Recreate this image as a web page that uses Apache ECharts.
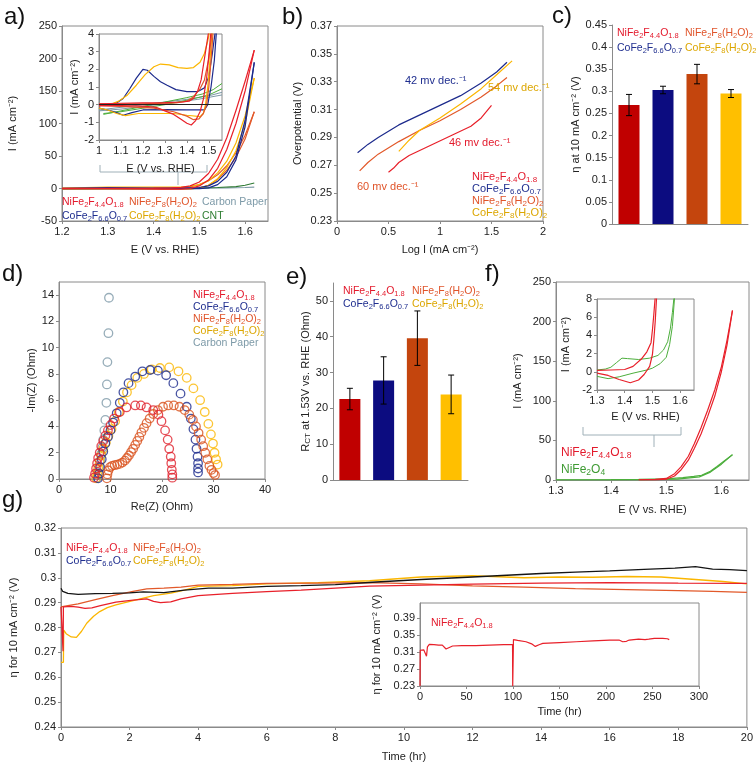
<!DOCTYPE html>
<html><head><meta charset="utf-8">
<script src="https://cdn.jsdelivr.net/npm/echarts@6/dist/echarts.min.js"></script>
<style>html,body{margin:0;padding:0;background:#fff}#c{width:756px;height:764px}</style>
</head><body><div id="c"></div>
<script>
// ---------- DATA ----------
const sampleNames = ['NiFe_2F_4.4O_1.8','CoFe_2F_6.6O_0.7','NiFe_2F_8(H_2O)_2','CoFe_2F_8(H_2O)_2'];
// a) LSV/CV main (E V vs RHE, I mA cm-2)
const aNiFeF_up = [[1.2,0.3],[1.3,0.3],[1.4,0.5],[1.44,1],[1.46,1.8],[1.48,4],[1.50,10],[1.52,23],[1.54,45],[1.56,78],[1.58,120],[1.60,165],[1.62,213]];
const aNiFeF_dn = [[1.62,213],[1.60,150],[1.58,100],[1.56,60],[1.54,31],[1.52,13],[1.50,4],[1.48,0],[1.46,-1],[1.42,-1],[1.38,-0.5],[1.3,-0.2],[1.2,-0.2]];
const aCoFeF_up = [[1.2,0.2],[1.3,1.2],[1.4,0.8],[1.46,0.7],[1.50,1.5],[1.52,4],[1.54,11],[1.56,25],[1.58,50],[1.60,105],[1.62,194]];
const aCoFeF_dn = [[1.62,194],[1.60,95],[1.58,44],[1.56,18],[1.54,6],[1.52,1],[1.50,-0.3],[1.3,-0.3],[1.2,-0.3]];
const aNiFeH_up = [[1.2,0.1],[1.4,0.3],[1.46,1.3],[1.48,2.5],[1.50,6],[1.52,12],[1.54,21],[1.56,35],[1.58,55],[1.60,82],[1.62,118]];
const aNiFeH_dn = [[1.62,118],[1.60,76],[1.58,48],[1.56,28],[1.54,14],[1.52,5],[1.50,1],[1.48,-0.5],[1.43,-0.8],[1.3,-0.3],[1.2,-0.2]];
const aCoFeH_up = [[1.2,0.5],[1.3,2.3],[1.4,2.1],[1.46,2.3],[1.48,3.5],[1.50,6],[1.52,12],[1.54,24],[1.56,42],[1.58,70],[1.60,112],[1.62,170]];
const aCoFeH_dn = [[1.62,170],[1.60,100],[1.58,58],[1.56,32],[1.54,15],[1.52,5],[1.50,0.5],[1.48,-0.6],[1.3,-0.5],[1.2,-0.5]];
const aCarbon = [[1.2,-0.3],[1.3,0],[1.4,0.3],[1.5,0.6],[1.56,1],[1.6,1.5],[1.62,2]];
const aCNT = [[1.2,-0.5],[1.3,-0.2],[1.4,0.2],[1.5,0.8],[1.54,1.5],[1.58,3],[1.60,5],[1.62,8.5]];
// a) inset
const iNiFeF_up = [[1.0,0.05],[1.1,0.08],[1.2,0.1],[1.3,0.12],[1.38,0.15],[1.41,0.2],[1.43,0.35],[1.45,0.8],[1.465,1.4],[1.48,2.6],[1.49,3.4],[1.50,4.2]];
const iNiFeF_dn = [[1.51,4.2],[1.50,2.8],[1.49,1.5],[1.475,0.3],[1.46,-0.4],[1.44,-0.9],[1.42,-1.15],[1.40,-1.05],[1.37,-0.8],[1.34,-0.55],[1.30,-0.35],[1.26,-0.15],[1.2,-0.08],[1.1,-0.05],[1.0,-0.05]];
const iCoFeF_up = [[1.0,-0.05],[1.05,0.0],[1.08,0.1],[1.11,0.35],[1.14,0.9],[1.17,1.5],[1.20,2.0],[1.22,1.95],[1.25,1.6],[1.28,1.3],[1.31,1.1],[1.35,0.85],[1.40,0.74],[1.45,0.74],[1.48,0.95],[1.50,1.6],[1.515,2.8],[1.53,4.2]];
const iCoFeF_dn = [[1.535,4.2],[1.525,2.5],[1.51,1.0],[1.495,0],[1.48,-0.3],[1.4,-0.3],[1.3,-0.28],[1.2,-0.3],[1.15,-0.45],[1.11,-0.6],[1.08,-0.45],[1.04,-0.3],[1.0,-0.2]];
const iNiFeH_up = [[1.0,0.05],[1.2,0.05],[1.35,0.1],[1.40,0.2],[1.43,0.45],[1.46,0.9],[1.48,1.4],[1.50,2.6],[1.515,4.2]];
const iNiFeH_dn = [[1.52,4.2],[1.51,2.5],[1.50,1.0],[1.49,0.0],[1.475,-0.5],[1.455,-0.8],[1.43,-0.85],[1.40,-0.65],[1.34,-0.4],[1.25,-0.2],[1.1,-0.1],[1.0,-0.05]];
const iCoFeH_up = [[1.0,-0.05],[1.05,0.0],[1.09,0.2],[1.13,0.55],[1.17,1.1],[1.21,1.7],[1.25,2.15],[1.28,2.3],[1.32,2.25],[1.36,2.1],[1.40,2.05],[1.43,2.1],[1.46,2.4],[1.48,2.9],[1.495,3.6],[1.505,4.2]];
const iCoFeH_dn = [[1.515,4.2],[1.505,2.5],[1.495,1.0],[1.485,0],[1.475,-0.5],[1.46,-0.68],[1.40,-0.6],[1.34,-0.5],[1.25,-0.5],[1.18,-0.5],[1.12,-0.62],[1.08,-0.5],[1.04,-0.3],[1.0,-0.2]];
const iCNT_up = [[1.02,-0.55],[1.1,-0.35],[1.2,-0.1],[1.3,0.15],[1.4,0.4],[1.47,0.6],[1.52,0.85],[1.56,1.2]];
const iCNT_dn = [[1.56,0.9],[1.5,0.55],[1.4,0.25],[1.3,0.0],[1.2,-0.2],[1.1,-0.4],[1.02,-0.5]];
const iCarbon_up = [[1.0,-0.3],[1.1,-0.15],[1.2,0.0],[1.3,0.15],[1.4,0.3],[1.5,0.5],[1.56,0.7]];
const iCarbon_dn = [[1.56,0.55],[1.45,0.3],[1.3,0.05],[1.2,-0.1],[1.1,-0.25],[1.0,-0.35]];
// b) Tafel (log I, overpotential V)
const bNiFeF = [[0.5,0.265],[0.55,0.268],[0.6,0.272],[0.7,0.277],[0.9,0.284],[1.1,0.291],[1.3,0.298],[1.4,0.304],[1.5,0.313]];
const bCoFeF = [[0.2,0.279],[0.3,0.285],[0.4,0.29],[0.6,0.299],[0.8,0.306],[1.0,0.313],[1.2,0.32],[1.4,0.329],[1.55,0.337],[1.65,0.344]];
const bNiFeH = [[0.22,0.266],[0.3,0.272],[0.4,0.278],[0.6,0.287],[0.8,0.295],[1.0,0.302],[1.2,0.31],[1.4,0.319],[1.55,0.327],[1.65,0.333]];
const bCoFeH = [[0.6,0.28],[0.7,0.288],[0.8,0.295],[1.0,0.304],[1.2,0.314],[1.4,0.325],[1.55,0.335],[1.7,0.345]];
const bSlopes = ['46 mv dec.⁻¹','42 mv dec.⁻¹','60 mv dec.⁻¹','54 mv dec.⁻¹'];
// c) overpotential at 10 mA cm-2
const cEta = [0.269, 0.303, 0.339, 0.295];
const cEtaErr = [0.024, 0.0085, 0.022, 0.009];
// d) Nyquist (Re, -Im)
const dNiFeF = [[6.8,0.1],[7.0,0.4],[7.2,0.8],[7.4,1.2],[7.6,1.6],[7.9,2.0],[8.2,2.5],[8.6,2.9],[9.0,3.3],[9.5,3.7],[10.0,4.1],[10.7,4.6],[11.8,5.1],[13.1,5.45],[14.8,5.6],[15.9,5.6],[17.0,5.45],[18.3,5.25],[19.3,4.9],[19.9,4.4],[20.6,3.7],[21.1,3.0],[21.4,2.3],[21.7,1.7],[21.8,1.2],[21.9,0.7],[22.0,0.35],[22.0,0.1]];
const dCoFeF = [[7.6,0.05],[7.8,0.4],[8.0,0.9],[8.3,1.5],[8.6,2.1],[9.0,2.7],[9.5,3.2],[10.0,3.7],[10.5,4.3],[11.2,5.0],[11.8,5.8],[12.5,6.6],[13.5,7.3],[14.8,7.8],[16.2,8.2],[17.7,8.3],[19.2,8.25],[20.8,7.9],[22.2,7.3],[23.6,6.5],[24.8,5.5],[25.6,4.6],[26.1,3.8],[26.5,3.0],[26.7,2.3],[26.9,1.7],[27.0,1.2],[27.0,0.8],[27.0,0.5]];
const dNiFeH = [[9.3,0.05],[9.4,0.35],[9.6,0.65],[9.9,0.9],[10.3,1.0],[10.8,1.05],[11.3,1.1],[11.8,1.15],[12.3,1.25],[12.8,1.4],[13.2,1.6],[13.6,1.8],[14.0,2.05],[14.4,2.3],[14.8,2.6],[15.2,2.9],[15.6,3.2],[16.0,3.55],[16.5,3.9],[17.0,4.25],[17.6,4.6],[18.3,4.95],[19.2,5.25],[20.2,5.5],[21.2,5.6],[22.3,5.6],[23.4,5.5],[24.4,5.25],[25.3,4.9],[26.0,4.5],[26.6,4.0],[27.1,3.5],[27.6,3.0],[28.0,2.5],[28.4,2.0],[28.8,1.5],[29.2,1.0],[29.6,0.7],[30.0,0.45],[30.3,0.3]];
const dCoFeH = [[7.2,0.05],[7.4,0.4],[7.6,0.8],[7.9,1.3],[8.2,1.8],[8.6,2.3],[9.1,2.8],[9.6,3.3],[10.2,3.8],[10.9,4.4],[11.6,5.1],[12.4,5.9],[13.2,6.6],[14.1,7.15],[15.2,7.7],[16.5,8.0],[18.0,8.35],[19.6,8.45],[21.4,8.5],[23.2,8.2],[24.8,7.7],[26.1,6.9],[27.4,6.0],[28.3,5.1],[29.0,4.2],[29.5,3.4],[29.9,2.7],[30.2,2.0],[30.5,1.5],[30.8,1.1]];
const dCarbon = [[7.4,0.1],[7.6,0.5],[7.8,0.9],[8.0,1.4],[8.2,1.9],[8.4,2.4],[8.6,3.0],[8.8,3.7],[9.0,4.5],[9.2,5.8],[9.3,7.2],[9.4,8.9],[9.6,11.1],[9.7,13.8]];
// e) Rct at 1.53 V
const eRct = [22.6, 27.8, 39.6, 23.9];
const eRctErr = [3.0, 6.6, 7.6, 5.4];
// f) NiFe2F4.4O1.8 vs NiFe2O4
const fNiFeF_up = [[1.45,0.3],[1.48,0.8],[1.50,2],[1.515,8],[1.527,17],[1.54,30],[1.551,46],[1.563,66],[1.575,88],[1.588,114],[1.60,143],[1.61,176],[1.62,214]];
const fNiFeF_dn = [[1.62,214],[1.61,170],[1.60,137],[1.588,106],[1.575,80],[1.563,58],[1.551,40],[1.54,25],[1.527,13],[1.515,5],[1.50,1],[1.48,0],[1.45,0]];
const fNiFeO_up = [[1.3,0.3],[1.4,0.5],[1.45,0.8],[1.5,1.5],[1.53,3],[1.55,4.5],[1.564,6],[1.58,11],[1.592,17],[1.605,24],[1.62,32]];
const fNiFeO_dn = [[1.62,32],[1.60,20],[1.58,10],[1.56,4],[1.52,1],[1.45,0.2],[1.3,0]];
const fiNiFeF_up = [[1.3,0.15],[1.35,0.2],[1.40,0.25],[1.43,0.6],[1.46,1.4],[1.48,2.2],[1.495,3.2],[1.50,4.6],[1.505,6.3],[1.51,8.2]];
const fiNiFeF_dn = [[1.515,8.2],[1.51,5.5],[1.505,3.5],[1.50,1.9],[1.49,0.6],[1.47,-0.3],[1.45,-0.9],[1.42,-1.2],[1.38,-0.85],[1.34,-0.4],[1.3,-0.15]];
const fiNiFeO_up = [[1.3,0.2],[1.33,0.3],[1.35,0.5],[1.37,1.0],[1.39,1.5],[1.41,1.45],[1.45,1.35],[1.49,1.5],[1.52,1.8],[1.54,2.4],[1.555,3.3],[1.565,4.8],[1.572,6.5],[1.578,8.2]];
const fiNiFeO_dn = [[1.58,8.2],[1.572,5],[1.562,3],[1.55,1.6],[1.528,0.9],[1.5,0.4],[1.48,0.2],[1.43,-0.15],[1.38,-0.55],[1.34,-0.75],[1.3,-0.5]];
// g) chronopotentiometry (time hr, eta V)
const gNiFeF = [[0,0.2883],[0.05,0.2883],[0.06,0.2705],[0.07,0.2883],[0.3,0.2885],[0.5,0.2882],[0.7,0.2877],[0.9,0.2879],[1.15,0.2888],[1.6,0.2902],[2.1,0.291],[2.5,0.2915],[2.7,0.2905],[2.9,0.29],[3.2,0.2903],[3.5,0.2915],[4.0,0.2928],[5.0,0.2937],[6.0,0.2944],[7.0,0.295],[8.0,0.2958],[9.0,0.2966],[10.5,0.297],[12.0,0.2974],[14.0,0.2978],[16.0,0.298],[18.0,0.2978],[20.0,0.2977]];
const gCoFeF = [[0,0.2958],[0.05,0.2945],[0.2,0.2937],[0.5,0.2933],[1.0,0.2936],[1.5,0.2937],[2.0,0.2939],[2.4,0.2943],[3.0,0.294],[3.6,0.295],[4.3,0.2958],[5.0,0.2958],[6.0,0.2965],[7.0,0.2968],[8.0,0.2972],[9.2,0.2983],[10.5,0.2993],[12.0,0.3003],[13.0,0.301],[14.0,0.3017],[15.0,0.3023],[16.0,0.3028],[17.0,0.3034],[17.9,0.3039],[18.5,0.3045],[19.0,0.3035],[19.5,0.3033],[20.0,0.3029]];
const gNiFeH = [[0,0.2883],[0.2,0.2888],[0.5,0.2895],[1.0,0.2912],[1.5,0.2928],[2.1,0.2945],[2.5,0.2955],[3.0,0.2958],[3.5,0.2962],[4.0,0.297],[5.0,0.2973],[6.0,0.2977],[7.5,0.2978],[9.0,0.298],[10.5,0.2975],[12.0,0.2967],[13.5,0.2962],[15.0,0.2956],[16.5,0.2952],[18.0,0.2948],[19.0,0.2945],[20.0,0.2941]];
const gCoFeH = [[0,0.266],[0.07,0.266],[0.08,0.279],[0.15,0.2775],[0.3,0.2762],[0.45,0.276],[0.6,0.2785],[0.75,0.2817],[0.95,0.2845],[1.13,0.2864],[1.35,0.288],[1.6,0.2891],[2.1,0.2908],[2.7,0.2928],[3.2,0.2938],[3.6,0.295],[4.0,0.2965],[5.0,0.2968],[6.0,0.2975],[7.5,0.298],[9.0,0.2988],[10.5,0.3003],[12.0,0.3008],[13.5,0.3],[14.5,0.3003],[15.5,0.3002],[16.5,0.3005],[17.5,0.3003],[18.5,0.2993],[19.3,0.2985],[20,0.2975]];
const gLong = [[0,0.23],[0.3,0.314],[2,0.315],[4,0.315],[6,0.316],[7,0.3],[7.5,0.3],[8,0.322],[10,0.328],[15,0.327],[20,0.326],[24,0.326],[26,0.322],[28,0.317],[30,0.319],[35,0.324],[45,0.325],[60,0.325],[75,0.326],[90,0.327],[99.5,0.327],[99.7,0.23],[100.2,0.23],[100.5,0.339],[105,0.337],[114,0.334],[120,0.329],[124,0.323],[128,0.327],[132,0.33],[150,0.332],[168,0.334],[186,0.336],[204,0.338],[214,0.338],[218,0.334],[220,0.331],[222,0.335],[225,0.338],[235,0.34],[242,0.339],[244,0.335],[246,0.34],[252,0.342],[261,0.342],[266,0.341],[268,0.339]];
// tick labels
const aXTicks = [1.2,1.3,1.4,1.5,1.6];
const aiXTicks = [1,1.1,1.2,1.3,1.4,1.5];
const bYTicks = [0.23,0.25,0.27,0.29,0.31,0.33,0.35,0.37];
const dYTicks = [0,2,4,6,8,10,12,14];
const eYTicks = [0,10,20,30,40,50];
const fXTicks = [1.3,1.4,1.5,1.6];
const giYTicks = [0.23,0.27,0.31,0.35,0.39];

// ---------- STYLE ----------
const FONT = '"Liberation Sans", Arial, sans-serif';
const AX = '#8a8a8a';
const C = {red:'#e8202a', blue:'#1c2a8c', orange:'#e2592a', yellow:'#fbb600', gray:'#7d99a7', cnt:'#2f7a34', green:'#4cae3c', black:'#151515'};
const T = {red:'#e31a2c', blue:'#1f2e8f', orange:'#e0542a', yellow:'#dca600', gray:'#7d9aa8', cnt:'#2e7d32', green:'#3f9b34'};
const BAR = ['#c00000','#0c0c80','#c4450d','#ffbf00'];

const sub = s => s.replace(/_([0-9.]+)/g, '{s|$1}');

function txt(x, y, text, color, size, subSize, extra) {
  return Object.assign({type:'text', x, y, silent:true, z:50, style:{
    text: sub(text), fill: color, fontSize: size, fontFamily: FONT, align:'left', verticalAlign:'middle',
    lineHeight: size + 3,
    rich:{s:{fontSize: subSize || Math.round(size*0.72), fontFamily: FONT, fill: color, verticalAlign:'bottom', lineHeight: subSize || Math.round(size*0.72)}}
  }}, extra || {});
}

const grids = [
  {left:62, top:26, width:206, height:195, show:true},           // 0 a
  {left:99, top:34, width:123, height:106, show:true},           // 1 a inset
  {left:337, top:26, width:206, height:195, show:true},          // 2 b
  {left:612, top:25, width:136, height:199, show:false},         // 3 c
  {left:59, top:282, width:206, height:197, show:true},          // 4 d
  {left:333, top:283, width:135, height:197, show:false},        // 5 e
  {left:556, top:282, width:193, height:198, show:true},         // 6 f
  {left:597, top:299, width:97, height:91, show:true},           // 7 f inset
  {left:61, top:528, width:687, height:199, show:true},          // 8 g
  {left:420, top:603, width:279, height:83, show:true}           // 9 g inset
].map(g => Object.assign({borderColor:AX, borderWidth:1, backgroundColor:'#fff', containLabel:false}, g));

function ax(gi, o) {
  const a = {
    type: o.type || 'value', gridIndex: gi, min: o.min, max: o.max, interval: o.interval,
    splitLine:{show:false},
    axisLine:{show:true, onZero:false, lineStyle:{color:AX, width:1}},
    axisTick:{show: o.tick !== false, inside:false, length:3, lineStyle:{color:AX}},
    axisLabel:{show: o.label !== false, color:'#222', fontSize:11, fontFamily:FONT, margin:5},
    name: o.name || '', nameLocation:'middle', nameGap: o.gap || 25,
    nameTextStyle:{color:'#222', fontSize:11, fontFamily:FONT,
      rich:{s:{fontSize:8, fontFamily:FONT, color:'#222', verticalAlign:'bottom', lineHeight:8}}}
  };
  if (o.ticks) { a.axisLabel.customValues = o.ticks; a.axisTick.customValues = o.ticks; }
  if (o.data) a.data = o.data;
  return a;
}

const xAxes = [
  ax(0,{min:1.2, max:1.65, ticks:aXTicks, name:'E (V vs. RHE)', gap:23}),
  ax(1,{min:1.0, max:1.56, ticks:aiXTicks, name:'E (V vs. RHE)', gap:23}),
  ax(2,{min:0, max:2, interval:0.5, name:'Log I (mA cm⁻²)', gap:23}),
  ax(3,{type:'category', data:sampleNames, label:false, tick:false}),
  ax(4,{min:0, max:40, interval:10, name:'Re(Z) (Ohm)', gap:22}),
  ax(5,{type:'category', data:sampleNames, label:false, tick:false}),
  ax(6,{min:1.3, max:1.65, ticks:fXTicks, name:'E (V vs. RHE)', gap:24}),
  ax(7,{min:1.3, max:1.65, ticks:fXTicks, name:'E (V vs. RHE)', gap:21}),
  ax(8,{min:0, max:20, interval:2, name:'Time (hr)', gap:24}),
  ax(9,{min:0, max:300, interval:50, name:'Time (hr)', gap:20})
];
const yAxes = [
  ax(0,{min:-50, max:250, interval:50, name:'I (mA cm⁻²)', gap:44}),
  ax(1,{min:-2, max:4, interval:1, name:'I (mA cm⁻²)', gap:18}),
  ax(2,{min:0.23, max:0.37, ticks:bYTicks, name:'Overpotential (V)', gap:34}),
  ax(3,{min:0, max:0.45, interval:0.05, name:'η at 10 mA cm⁻² (V)', gap:31}),
  ax(4,{min:0, max:15, ticks:dYTicks, name:'-Im(Z) (Ohm)', gap:21}),
  ax(5,{min:0, max:55, ticks:eYTicks, name:'R{s|CT} at 1.53V vs. RHE (Ohm)', gap:20}),
  ax(6,{min:0, max:250, interval:50, name:'I (mA cm⁻²)', gap:33}),
  ax(7,{min:-2, max:8, interval:2, name:'I (mA cm⁻²)', gap:26}),
  ax(8,{min:0.24, max:0.32, interval:0.01, name:'η for 10 mA cm⁻² (V)', gap:42}),
  ax(9,{min:0.23, max:0.425, ticks:giYTicks, name:'η for 10 mA cm⁻² (V)', gap:38})
];

function ln(data, color, gi, w, extra) {
  return Object.assign({type:'line', data, xAxisIndex:gi, yAxisIndex:gi, symbol:'none', showSymbol:false,
    lineStyle:{color, width: w || 1.2}, itemStyle:{color}, silent:true, animation:false, z:3}, extra || {});
}
function sc(data, color, gi) {
  return {type:'scatter', data, xAxisIndex:gi, yAxisIndex:gi, symbol:'circle', symbolSize:8.5,
    itemStyle:{color:'rgba(0,0,0,0)', borderColor:color, borderWidth:1.3}, silent:true, animation:false, z:3};
}
function bars(vals, gi) {
  return {type:'bar', xAxisIndex:gi, yAxisIndex:gi, barWidth:21, silent:true, animation:false,
    data: vals.map((v,i)=>({value:v, itemStyle:{color:BAR[i]}}))};
}
function errs(vals, err, gi) {
  return {type:'custom', xAxisIndex:gi, yAxisIndex:gi, silent:true, animation:false, z:10,
    encode:{x:0, y:[1,2]},
    data: vals.map((v,i)=>[i, v-err[i], v+err[i]]),
    renderItem:(params, api)=>{
      const x = api.value(0);
      const p1 = api.coord([x, api.value(1)]), p2 = api.coord([x, api.value(2)]);
      const w = 3, st = {stroke:'#000', lineWidth:1};
      return {type:'group', children:[
        {type:'line', shape:{x1:p1[0], y1:p1[1], x2:p2[0], y2:p2[1]}, style:st},
        {type:'line', shape:{x1:p1[0]-w, y1:p1[1], x2:p1[0]+w, y2:p1[1]}, style:st},
        {type:'line', shape:{x1:p2[0]-w, y1:p2[1], x2:p2[0]+w, y2:p2[1]}, style:st}
      ]};
    }};
}
const zeroLine = {silent:true, symbol:'none', label:{show:false}, lineStyle:{color:'#222', type:'solid', width:1}, data:[{yAxis:0}]};

const series = [
  // a main
  ln(aCarbon, C.gray, 0), ln(aCNT, C.cnt, 0),
  ln(aNiFeH_up, C.orange, 0), ln(aNiFeH_dn, C.orange, 0),
  ln(aCoFeH_up, C.yellow, 0), ln(aCoFeH_dn, C.yellow, 0),
  ln(aCoFeF_up, C.blue, 0), ln(aCoFeF_dn, C.blue, 0),
  ln(aNiFeF_up, C.red, 0), ln(aNiFeF_dn, C.red, 0),
  // a inset
  ln(iCarbon_up, C.gray, 1, 1, {markLine: zeroLine}), ln(iCarbon_dn, C.gray, 1, 1),
  ln(iCNT_up, C.green, 1, 1), ln(iCNT_dn, C.green, 1, 1),
  ln(iCoFeF_up, C.blue, 1), ln(iCoFeF_dn, C.blue, 1),
  ln(iCoFeH_up, C.yellow, 1), ln(iCoFeH_dn, C.yellow, 1),
  ln(iNiFeH_up, C.orange, 1), ln(iNiFeH_dn, C.orange, 1),
  ln(iNiFeF_up, C.red, 1), ln(iNiFeF_dn, C.red, 1),
  // b
  ln(bCoFeF, C.blue, 2), ln(bNiFeH, C.orange, 2), ln(bCoFeH, C.yellow, 2), ln(bNiFeF, C.red, 2),
  // c
  bars(cEta, 3), errs(cEta, cEtaErr, 3),
  // d
  sc(dCarbon, C.gray, 4), sc(dCoFeH, C.yellow, 4), sc(dCoFeF, C.blue, 4), sc(dNiFeH, '#d9531e', 4), sc(dNiFeF, '#e0202c', 4),
  // e
  bars(eRct, 5), errs(eRct, eRctErr, 5),
  // f main
  ln(fNiFeO_up, C.green, 6), ln(fNiFeO_dn, C.green, 6), ln(fNiFeF_up, C.red, 6), ln(fNiFeF_dn, C.red, 6),
  // f inset
  ln(fiNiFeO_up, C.green, 7, 1), ln(fiNiFeO_dn, C.green, 7, 1), ln(fiNiFeF_up, C.red, 7), ln(fiNiFeF_dn, C.red, 7),
  // g
  ln(gCoFeH, C.yellow, 8, 1.3), ln(gNiFeH, C.orange, 8, 1.3), ln(gNiFeF, C.red, 8, 1.3), ln(gCoFeF, C.black, 8, 1.3),
  ln(gLong, C.red, 9, 1.2)
];

const BR = '#9fb0b8';
const graphics = [
  // panel letters
  {type:'text', x:4, y:17, style:{text:'a)', fontSize:24, fontFamily:FONT, fill:'#111', verticalAlign:'middle'}},
  {type:'text', x:282, y:17, style:{text:'b)', fontSize:24, fontFamily:FONT, fill:'#111', verticalAlign:'middle'}},
  {type:'text', x:552, y:16, style:{text:'c)', fontSize:24, fontFamily:FONT, fill:'#111', verticalAlign:'middle'}},
  {type:'text', x:2, y:274, style:{text:'d)', fontSize:24, fontFamily:FONT, fill:'#111', verticalAlign:'middle'}},
  {type:'text', x:286, y:277, style:{text:'e)', fontSize:24, fontFamily:FONT, fill:'#111', verticalAlign:'middle'}},
  {type:'text', x:485, y:274, style:{text:'f)', fontSize:24, fontFamily:FONT, fill:'#111', verticalAlign:'middle'}},
  {type:'text', x:2, y:500, style:{text:'g)', fontSize:24, fontFamily:FONT, fill:'#111', verticalAlign:'middle'}},
  // brackets
  {type:'polyline', shape:{points:[[100,165],[100,172],[207,172],[207,165]]}, style:{stroke:BR, lineWidth:1, fill:null}},
  {type:'line', shape:{x1:178, y1:172, x2:178, y2:185}, style:{stroke:BR, lineWidth:1}},
  {type:'polyline', shape:{points:[[583,427],[583,435],[681,435],[681,427]]}, style:{stroke:BR, lineWidth:1, fill:null}},
  {type:'line', shape:{x1:654, y1:435, x2:654, y2:447}, style:{stroke:BR, lineWidth:1}},
  // a legend
  txt(62, 202, sampleNames[0], T.red, 10.5, 7.5), txt(129, 202, sampleNames[2], T.orange, 10.5, 7.5), txt(202, 202, 'Carbon Paper', T.gray, 10.5, 7.5),
  txt(62, 216, sampleNames[1], T.blue, 10.5, 7.5), txt(129, 216, sampleNames[3], T.yellow, 10.5, 7.5), txt(202, 216, 'CNT', T.cnt, 10.5, 7.5),
  // b slope labels + legend
  txt(405, 81, bSlopes[1], T.blue, 11, 8), txt(488, 88, bSlopes[3], T.yellow, 11, 8),
  txt(449, 143, bSlopes[0], T.red, 11, 8), txt(357, 187, bSlopes[2], T.orange, 11, 8),
  txt(472, 177, sampleNames[0], T.red, 11, 8), txt(472, 189, sampleNames[1], T.blue, 11, 8),
  txt(472, 201, sampleNames[2], T.orange, 11, 8), txt(472, 213, sampleNames[3], T.yellow, 11, 8),
  // c legend
  txt(617, 33, sampleNames[0], T.red, 10.5, 7.5), txt(685, 33, sampleNames[2], T.orange, 10.5, 7.5),
  txt(617, 48, sampleNames[1], T.blue, 10.5, 7.5), txt(685, 48, sampleNames[3], T.yellow, 10.5, 7.5),
  // d legend
  txt(193, 295, sampleNames[0], T.red, 10.5, 7.5), txt(193, 307, sampleNames[1], T.blue, 10.5, 7.5),
  txt(193, 319, sampleNames[2], T.orange, 10.5, 7.5), txt(193, 331, sampleNames[3], T.yellow, 10.5, 7.5),
  txt(193, 343, 'Carbon Paper', T.gray, 10.5, 7.5),
  // e legend
  txt(343, 291, sampleNames[0], T.red, 10.5, 7.5), txt(412, 291, sampleNames[2], T.orange, 10.5, 7.5),
  txt(343, 304, sampleNames[1], T.blue, 10.5, 7.5), txt(412, 304, sampleNames[3], T.yellow, 10.5, 7.5),
  // f legend
  txt(561, 453, sampleNames[0], T.red, 12, 8.5), txt(561, 470, 'NiFe_2O_4', T.green, 12, 8.5),
  // g legend
  txt(66, 548, sampleNames[0], T.red, 10.5, 7.5), txt(133, 548, sampleNames[2], T.orange, 10.5, 7.5),
  txt(66, 561, sampleNames[1], T.blue, 10.5, 7.5), txt(133, 561, sampleNames[3], T.yellow, 10.5, 7.5),
  txt(431, 623, sampleNames[0], T.red, 10.5, 7.5)
];

const chart = echarts.init(document.getElementById('c'), null, {renderer:'canvas'});
chart.setOption({
  animation:false, backgroundColor:'#fff',
  grid: grids, xAxis: xAxes, yAxis: yAxes, series: series, graphic: graphics
});
</script></body></html>
